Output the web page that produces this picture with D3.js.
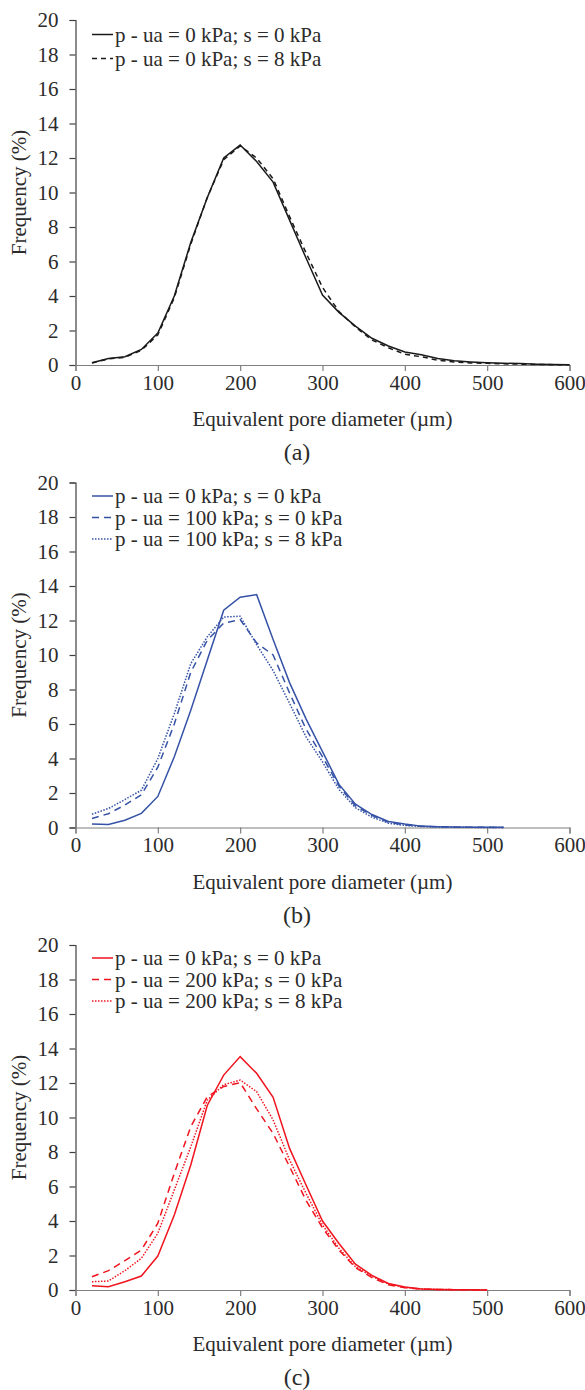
<!DOCTYPE html>
<html>
<head>
<meta charset="utf-8">
<script src="https://cdn.jsdelivr.net/npm/d3@7"></script>
<style>
  body { margin: 0; background: #fff; }
</style>
</head>
<body>
<div id="my_dataviz"></div>
<script>
// pore diameters (µm) for each panel
const diameterA = [20, 40, 60, 80, 100, 120, 140, 160, 180, 200, 220, 240, 260, 280, 300,
  320, 340, 360, 380, 400, 420, 440, 460, 480, 500, 520, 540, 560, 580, 600];
const diameterB = [20, 40, 60, 80, 100, 120, 140, 160, 180, 200, 220, 240, 260, 280, 300,
  320, 340, 360, 380, 400, 420, 440, 460, 480, 500, 520];
const diameterC = [20, 40, 60, 80, 100, 120, 140, 160, 180, 200, 220, 240, 260, 280, 300,
  320, 340, 360, 380, 400, 420, 440, 460, 480, 500];

// frequency (%) - panel (a)
const aSolid = [0.13, 0.38, 0.48, 0.9, 1.85, 4.0, 7.1, 9.7, 12.0, 12.75, 11.8, 10.6, 8.4, 6.2, 4.05,
  3.05, 2.25, 1.55, 1.1, 0.75, 0.6, 0.38, 0.25, 0.18, 0.13, 0.1, 0.08, 0.05, 0.03, 0.02];
const aDashed = [0.12, 0.35, 0.45, 0.85, 1.75, 3.9, 7.0, 9.7, 11.9, 12.7, 12.0, 10.8, 8.6, 6.5, 4.5,
  3.1, 2.2, 1.45, 1.0, 0.62, 0.48, 0.28, 0.18, 0.12, 0.1, 0.07, 0.05, 0.03, 0.02, 0.01];

// frequency (%) - panel (b)
const bSolid = [0.2, 0.17, 0.42, 0.82, 1.8, 4.1, 6.8, 9.7, 12.6, 13.35, 13.5, 10.9, 8.4, 6.3, 4.4,
  2.5, 1.35, 0.75, 0.35, 0.2, 0.08, 0.05, 0.03, 0.02, 0.01, 0.01];
const bDashed = [0.52, 0.8, 1.3, 1.9, 3.5, 6.0, 9.0, 10.85, 11.85, 12.05, 10.7, 10.0, 7.8, 5.7, 4.1,
  2.4, 1.25, 0.7, 0.3, 0.15, 0.07, 0.04, 0.02, 0.01, 0.01, 0.0];
const bDotted = [0.77, 1.1, 1.62, 2.16, 4.0, 6.6, 9.5, 11.05, 12.2, 12.25, 10.6, 9.1, 7.2, 5.25, 3.8,
  2.2, 1.15, 0.6, 0.25, 0.12, 0.06, 0.03, 0.02, 0.01, 0.0, 0.0];

// frequency (%) - panel (c)
const cSolid = [0.25, 0.19, 0.48, 0.81, 1.97, 4.35, 7.25, 10.7, 12.46, 13.53, 12.56, 11.17, 8.21, 6.09, 4.0,
  2.7, 1.5, 0.85, 0.38, 0.18, 0.06, 0.03, 0.02, 0.01, 0.0];
const cDashed = [0.77, 1.12, 1.7, 2.32, 3.87, 6.76, 9.47, 11.2, 11.8, 12.02, 10.5, 9.08, 7.15, 5.2, 3.6,
  2.32, 1.3, 0.72, 0.3, 0.13, 0.05, 0.03, 0.02, 0.01, 0.0];
const cDotted = [0.48, 0.52, 1.12, 1.84, 3.29, 5.8, 8.3, 11.0, 11.9, 12.17, 11.5, 9.86, 7.54, 5.6, 3.77,
  2.42, 1.35, 0.8, 0.35, 0.15, 0.07, 0.03, 0.02, 0.01, 0.01];

// legend labels
const labelsA = ["p - ua = 0 kPa; s = 0 kPa", "p - ua = 0 kPa; s = 8 kPa"];
const labelsB = ["p - ua = 0 kPa; s = 0 kPa", "p - ua = 100 kPa; s = 0 kPa", "p - ua = 100 kPa; s = 8 kPa"];
const labelsC = ["p - ua = 0 kPa; s = 0 kPa", "p - ua = 200 kPa; s = 0 kPa", "p - ua = 200 kPa; s = 8 kPa"];

// axis ticks
const xTicks = [0, 100, 200, 300, 400, 500, 600];
const yTicks = [0, 2, 4, 6, 8, 10, 12, 14, 16, 18, 20];
const panelLetters = ["(a)", "(b)", "(c)"];

let width = 585;
let height = 1390;
let plotLeft = 75.5;
let plotRight = 569.5;
let plotHeight = 345;
let panelTops = [20, 482.5, 945];

const fontFamily = '"Liberation Serif"';
const textColor = "#2b2b2b";
const dashStyles = { solid: null, dashed: "7,5", dotted: "1.5,1.5" };

var svg = d3
  .select("#my_dataviz")
  .append("svg")
  .attr("width", width)
  .attr("height", height)
  .style("display", "block");

function buildSeries(diameters, values, style) {
  return {
    style: style,
    points: diameters.map((d, i) => [d, values[i]])
  };
}

const panels = [
  {
    color: "#1a1a1a",
    dash: "5,4",
    labels: labelsA,
    series: [buildSeries(diameterA, aSolid, "solid"), buildSeries(diameterA, aDashed, "dashed")],
    legendRows: [14.5, 38.5]
  },
  {
    color: "#3552a6",
    dash: "7,5",
    labels: labelsB,
    series: [
      buildSeries(diameterB, bSolid, "solid"),
      buildSeries(diameterB, bDashed, "dashed"),
      buildSeries(diameterB, bDotted, "dotted")
    ],
    legendRows: [13.5, 35, 56.5]
  },
  {
    color: "#f0141e",
    dash: "7,5",
    labels: labelsC,
    series: [
      buildSeries(diameterC, cSolid, "solid"),
      buildSeries(diameterC, cDashed, "dashed"),
      buildSeries(diameterC, cDotted, "dotted")
    ],
    legendRows: [13, 34.5, 56]
  }
];

function dashFor(panel, style) {
  if (style == "dashed") return panel.dash;
  return dashStyles[style];
}

/**
 * @description Draws one panel: axes, titles, curves and legend
 */
function drawPanel(panel, i) {
  let top = panelTops[i];
  let bottom = top + plotHeight;

  let x = d3.scaleLinear().domain([0, 600]).range([plotLeft, plotRight]);
  let y = d3.scaleLinear().domain([0, 20]).range([bottom, top]);

  let g = svg.append("g");

  // y axis
  let yAxis = g
    .append("g")
    .attr("transform", "translate(" + plotLeft + ",0)")
    .call(d3.axisLeft(y).tickValues(yTicks).tickSize(6).tickPadding(11));
  yAxis.select(".domain").attr("stroke", "#404040").attr("stroke-width", 1.2);
  yAxis.selectAll(".tick line").attr("stroke", "#404040").attr("stroke-width", 1.2);

  // x axis
  let xAxis = g
    .append("g")
    .attr("transform", "translate(0," + bottom + ")")
    .call(d3.axisBottom(x).tickValues(xTicks).tickSize(6).tickPadding(4));
  xAxis.select(".domain").attr("stroke", "#7f7f7f").attr("stroke-width", 1.2);
  xAxis.selectAll(".tick line").attr("stroke", "#7f7f7f").attr("stroke-width", 1.2);

  g.selectAll(".tick text")
    .style("font-size", "21px")
    .attr("fill", textColor);

  // axis titles
  g.append("text")
    .attr("x", (plotLeft + plotRight) / 2)
    .attr("y", bottom + 54)
    .attr("text-anchor", "middle")
    .attr("dominant-baseline", "central")
    .style("font-size", "21px")
    .attr("fill", textColor)
    .text("Equivalent pore diameter (µm)");

  g.append("text")
    .attr("transform", "translate(19," + (top + bottom) / 2 + ") rotate(-90)")
    .attr("text-anchor", "middle")
    .attr("dominant-baseline", "central")
    .style("font-size", "21px")
    .attr("fill", textColor)
    .text("Frequency (%)");

  g.append("text")
    .attr("x", 297)
    .attr("y", bottom + 87)
    .attr("text-anchor", "middle")
    .attr("dominant-baseline", "central")
    .style("font-size", "24px")
    .attr("fill", textColor)
    .text(panelLetters[i]);

  // curves
  let line = d3
    .line()
    .x(d => x(d[0]))
    .y(d => y(d[1]));

  g.selectAll("path.curve")
    .data(panel.series)
    .enter()
    .append("path")
    .attr("class", "curve")
    .attr("d", d => line(d.points))
    .attr("fill", "none")
    .attr("stroke", panel.color)
    .attr("stroke-width", 1.5)
    .attr("stroke-dasharray", d => dashFor(panel, d.style));

  // legend
  panel.series.forEach(function(s, k) {
    let ly = top + panel.legendRows[k];
    g.append("line")
      .attr("x1", 92)
      .attr("x2", 113)
      .attr("y1", ly)
      .attr("y2", ly)
      .attr("stroke", panel.color)
      .attr("stroke-width", 1.5)
      .attr("stroke-dasharray", dashFor(panel, s.style));
    g.append("text")
      .attr("x", 115)
      .attr("y", ly)
      .attr("dominant-baseline", "central")
      .style("font-size", "21px")
      .attr("fill", textColor)
      .text(panel.labels[k]);
  });
}

panels.forEach(drawPanel);

// serif font on every text, set on the element itself
svg.selectAll("text").attr("font-family", null).style("font-family", fontFamily);
</script>
</body>
</html>
